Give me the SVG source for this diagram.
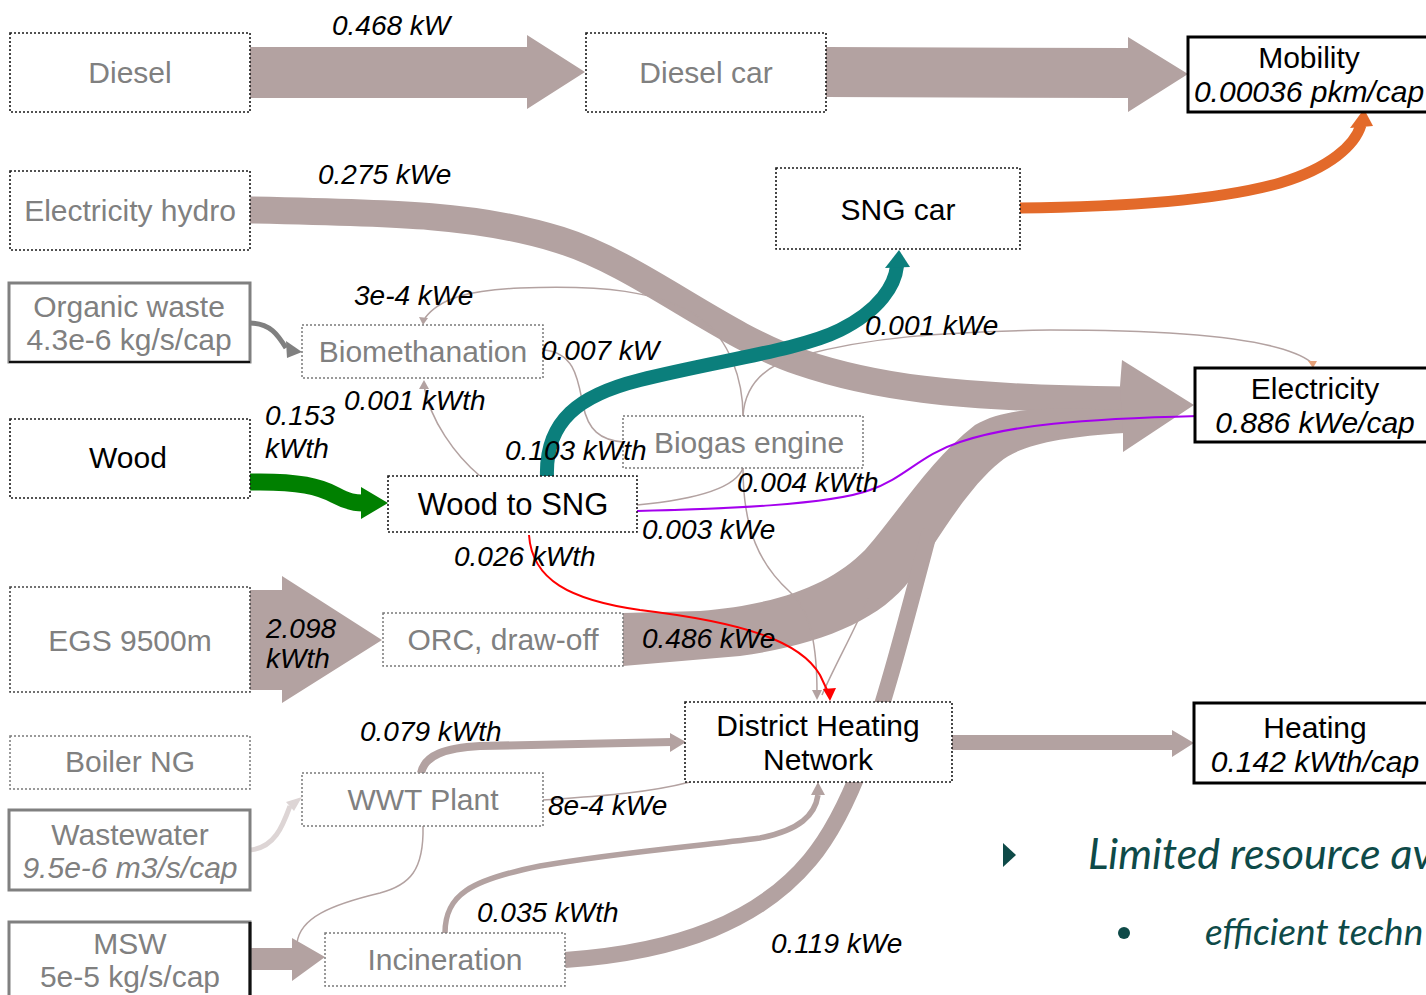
<svg xmlns="http://www.w3.org/2000/svg" width="1426" height="995" viewBox="0 0 1426 995">
<style>
  .lbl { font-family: "Liberation Sans", Arial, sans-serif; font-style: italic; font-size: 28px; fill: #000; }
  .nt { font-family: "Liberation Sans", Arial, sans-serif; font-size: 30px; text-anchor: middle; }
  .it { font-style: italic; }
  .g { fill: #808080; }
  .k { fill: #000; }
  .bx-d { fill: #fff; stroke: #1a1a1a; stroke-width: 1.6; stroke-dasharray: 2 2; }
  .bx-g { fill: #fff; stroke: #7a7a7a; stroke-width: 1.5; stroke-dasharray: 2 2; }
  .bx-s { fill: #fff; stroke: #808080; stroke-width: 3; }
  .bx-b { fill: #fff; stroke: #000; stroke-width: 3; }
  .flow { fill: #b3a2a1; }
  .band { fill: none; stroke: #b3a2a1; }
  .thin { fill: none; stroke: #b3a2a1; stroke-width: 1.5; }
  .note { font-family: Lato, "Open Sans", sans-serif; font-style: italic; fill: #0e4a48; }
</style>

<g id="connectors">
  <!-- Diesel -> Diesel car -->
  <polygon class="flow" points="250,47 527,47 527,35 585,72 527,109 527,98 250,98"/>
  <!-- Diesel car -> Mobility -->
  <polygon class="flow" points="826,47 1128,48 1128,37 1188,74 1128,112 1128,98 826,97"/>
  <!-- Electricity hydro -> Electricity -->
  <path class="band" stroke-width="27" d="M250,210 C400,213 480,215 560,240 C640,265 720,335 800,362 C870,386 950,398 1125,400"/>
  <!-- ORC -> Electricity -->
  <path class="flow" d="M623,613 L700,611 C780,604 830,585 865,550 C900,510 930,460 975,425 C1010,405 1060,408 1125,410 L1125,433 C1060,437 1020,445 1000,462 C965,490 935,545 910,580 C880,620 820,645 740,656 L623,666 Z"/>
  <!-- Incineration -> Electricity -->
  <path class="band" stroke-width="16" d="M565,960 C680,952 760,920 810,860 C860,800 885,700 930,530"/>
  <!-- joint arrowhead into Electricity -->
  <polygon class="flow" points="1120,386 1122,360 1194,405 1123,452 1123,433"/>
  <!-- EGS -> ORC -->
  <polygon class="flow" points="250,590 282,590 282,576 382,640 282,703 282,690 250,690"/>
  <!-- MSW -> Incineration -->
  <polygon class="flow" points="250,948 292,948 292,938 325,957 292,981 292,970 250,970"/>
  <!-- DHN -> Heating -->
  <polygon class="flow" points="952,735 1172,735 1172,730 1194,743 1172,757 1172,750 952,750"/>
  <!-- WWT Plant -> DHN -->
  <path class="band" stroke-width="8" d="M421,773 C425,755 445,748 480,746 L672,742"/>
  <polygon class="flow" points="670,733 686,742 670,752"/>
  <!-- Incineration -> DHN -->
  <path class="band" stroke-width="5.5" d="M445,933 C445,895 470,880 540,866 C620,852 700,846 760,838 C800,830 815,815 818,795"/>
  <polygon class="flow" points="811,795 818,782 825,795"/>

  <!-- thin flows -->
  <path class="thin" d="M480,476 C455,455 430,420 424,386"/>
  <polygon class="flow" points="419,389 424,380 429,389"/>
  <path class="thin" d="M743,416 C743,380 730,340 700,318 C660,290 600,285 520,288 C470,290 440,298 425,318"/>
  <polygon class="flow" points="419,317 423,325 428,318"/>
  <path class="thin" d="M743,416 C745,385 765,365 800,356 C870,337 940,332 1050,330 C1180,330 1280,338 1311,362"/>
  <polygon points="1308,361 1313,368 1317,361" fill="#e6a27a"/>
  <path class="thin" d="M543,350 C575,352 578,380 583,405 C588,430 600,440 623,442"/>
  <path class="thin" d="M637,505 C690,500 735,490 743,468"/>
  <path class="thin" d="M743,468 C743,530 760,565 790,592 C812,612 817,650 817,693"/>
  <polygon class="flow" points="812,690 817,700 822,690"/>
  <path class="thin" d="M868,598 C855,630 835,665 822,695"/>
  <path class="thin" d="M543,800 C580,797 640,795 690,782"/>
  <path class="thin" d="M423,826 C424,870 410,885 380,893 C330,905 300,918 297,943"/>

  <!-- Organic waste -> Biomethanation -->
  <path fill="none" stroke="#808080" stroke-width="5" d="M250,323 C270,323 278,335 286,348"/>
  <polygon fill="#808080" points="286,341 302,352 287,358"/>
  <!-- Wastewater -> WWT Plant -->
  <path fill="none" stroke="#ddd5d5" stroke-width="5" d="M250,850 C275,848 283,825 290,806"/>
  <polygon fill="#ddd5d5" points="286,802 302,797 294,811"/>

  <!-- Wood -> Wood to SNG -->
  <path fill="none" stroke="#008000" stroke-width="17" d="M250,482 C300,481 320,487 335,495 C348,502 355,503 363,503"/>
  <polygon fill="#008000" points="361,487 388,503 361,519"/>
  <!-- Wood to SNG -> SNG car -->
  <path fill="none" stroke="#0b7f7c" stroke-width="14" d="M547,477 C545,420 580,395 640,380 C720,360 800,350 840,330 C880,310 895,285 897,266"/>
  <polygon fill="#0b7f7c" points="885,268 899,250 910,267"/>
  <!-- SNG car -> Mobility -->
  <path fill="none" stroke="#e36a2a" stroke-width="11" d="M1020,208 C1120,207 1220,200 1280,183 C1330,168 1355,145 1361,125"/>
  <polygon fill="#e36a2a" points="1350,128 1364,109 1373,126"/>
  <!-- Wood to SNG -> Electricity -->
  <path fill="none" stroke="#a400ee" stroke-width="2" d="M637,511 C720,509 830,505 870,490 C905,478 920,455 960,442 C1010,425 1080,419 1198,416"/>
  <!-- Wood to SNG -> DHN -->
  <path fill="none" stroke="#ff0000" stroke-width="2" d="M529,535 C532,580 570,600 640,610 C740,622 800,640 820,675 L828,692"/>
  <polygon fill="#ff0000" points="823,689 830,701 836,688"/>
</g>

<g id="n-diesel"><rect class="bx-d" x="10" y="33" width="240" height="79"/><text class="nt g" x="130" y="83">Diesel</text></g>
<g id="n-diesel-car"><rect class="bx-d" x="586" y="33" width="240" height="79"/><text class="nt g" x="706" y="83">Diesel car</text></g>
<g id="n-mobility"><rect class="bx-b" x="1188" y="37" width="245" height="75"/><text class="nt k" x="1309" y="68">Mobility</text><text class="nt k it" x="1309" y="102">0.00036 pkm/cap</text></g>
<g id="n-hydro"><rect class="bx-d" x="10" y="171" width="240" height="79"/><text class="nt g" x="130" y="221">Electricity hydro</text></g>
<g id="n-sng-car"><rect class="bx-d" x="776" y="168" width="244" height="81"/><text class="nt k" x="898" y="220">SNG car</text></g>
<g id="n-organic"><rect class="bx-s" x="9" y="283" width="241" height="79"/><line x1="9" y1="362" x2="250" y2="362" stroke="#111" stroke-width="2"/><text class="nt g" x="129" y="317">Organic waste</text><text class="nt g" x="129" y="350">4.3e-6 kg/s/cap</text></g>
<g id="n-biometh"><rect class="bx-g" x="302" y="325" width="241" height="53"/><text class="nt g" x="423" y="362">Biomethanation</text></g>
<g id="n-electricity"><rect class="bx-b" x="1195" y="368" width="240" height="74"/><text class="nt k" x="1315" y="399">Electricity</text><text class="nt k it" x="1315" y="433">0.886 kWe/cap</text></g>
<g id="n-wood"><rect class="bx-d" x="10" y="419" width="240" height="79"/><text class="nt k" x="128" y="468">Wood</text></g>
<g id="n-biogas"><rect class="bx-g" x="623" y="416" width="240" height="52"/><text class="nt g" x="749" y="453">Biogas engine</text></g>
<g id="n-wood-sng"><rect class="bx-d" x="388" y="476" width="249" height="56"/><text class="nt k" x="513" y="515" style="font-size:31px">Wood to SNG</text></g>
<g id="n-egs"><rect class="bx-d" x="10" y="587" width="240" height="105" style="stroke:#444"/><text class="nt g" x="130" y="651">EGS 9500m</text></g>
<g id="n-orc"><rect class="bx-g" x="383" y="613" width="240" height="53"/><text class="nt g" x="503" y="650">ORC, draw-off</text></g>
<g id="n-boiler"><rect class="bx-g" x="10" y="736" width="240" height="53"/><text class="nt g" x="130" y="772">Boiler NG</text></g>
<g id="n-dhn"><rect class="bx-d" x="685" y="702" width="267" height="80"/><text class="nt k" x="818" y="736">District Heating</text><text class="nt k" x="818" y="770">Network</text></g>
<g id="n-heating"><rect class="bx-b" x="1194" y="703" width="240" height="80"/><text class="nt k" x="1315" y="738">Heating</text><text class="nt k it" x="1315" y="772">0.142 kWth/cap</text></g>
<g id="n-wwt"><rect class="bx-g" x="302" y="773" width="241" height="53"/><text class="nt g" x="423" y="810">WWT Plant</text></g>
<g id="n-wastewater"><rect class="bx-s" x="9" y="810" width="241" height="80"/><text class="nt g" x="130" y="845">Wastewater</text><text class="nt g it" x="130" y="878">9.5e-6 m3/s/cap</text></g>
<g id="n-msw"><rect class="bx-s" x="9" y="922" width="241" height="80"/><line x1="250" y1="922" x2="250" y2="995" stroke="#111" stroke-width="3"/><text class="nt g" x="130" y="954">MSW</text><text class="nt g" x="130" y="987">5e-5 kg/s/cap</text></g>
<g id="n-incin"><rect class="bx-g" x="325" y="933" width="240" height="53"/><text class="nt g" x="445" y="970">Incineration</text></g>

<g id="labels">
  <text class="lbl" x="332" y="35">0.468 kW</text>
  <text class="lbl" x="318" y="184">0.275 kWe</text>
  <text class="lbl" x="354" y="305">3e-4 kWe</text>
  <text class="lbl" x="541" y="360">0.007 kW</text>
  <text class="lbl" x="865" y="335">0.001 kWe</text>
  <text class="lbl" x="265" y="425">0.153</text>
  <text class="lbl" x="265" y="458">kWth</text>
  <text class="lbl" x="344" y="410">0.001 kWth</text>
  <text class="lbl" x="505" y="460">0.103 kWth</text>
  <text class="lbl" x="737" y="492">0.004 kWth</text>
  <text class="lbl" x="642" y="539">0.003 kWe</text>
  <text class="lbl" x="454" y="566">0.026 kWth</text>
  <text class="lbl" x="266" y="638">2.098</text>
  <text class="lbl" x="266" y="668">kWth</text>
  <text class="lbl" x="642" y="648">0.486 kWe</text>
  <text class="lbl" x="360" y="741">0.079 kWth</text>
  <text class="lbl" x="548" y="815">8e-4 kWe</text>
  <text class="lbl" x="477" y="922">0.035 kWth</text>
  <text class="lbl" x="771" y="953">0.119 kWe</text>
</g>

<g id="notes">
  <polygon points="1003,843 1016,855 1003,867" fill="#0e4a48"/>
  <text class="note" x="1088" y="869" font-size="43">Limited resource av</text>
  <circle cx="1124" cy="933" r="6" fill="#0e4a48"/>
  <text class="note" x="1205" y="945" font-size="37">efficient techn</text>
</g>
</svg>
